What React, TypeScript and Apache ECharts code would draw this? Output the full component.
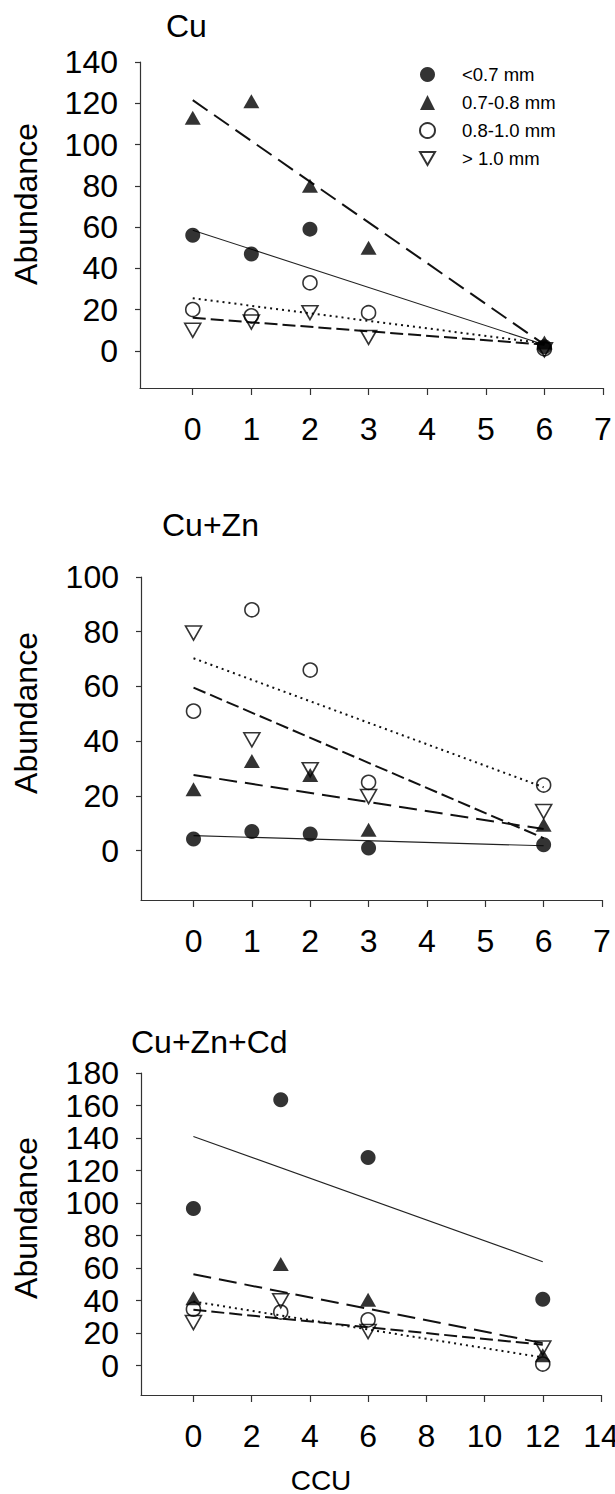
import React, { useEffect, useRef } from "react";
import * as echarts from "echarts";

// ---------- data ----------
const sizeClasses = ["<0.7 mm", "0.7-0.8 mm", "0.8-1.0 mm", "> 1.0 mm"];

const panelTitles = ["Cu", "Cu+Zn", "Cu+Zn+Cd"];

// CCU levels
const ccuCu = [0, 1, 2, 3, 6];
const ccuCuZn = [0, 1, 2, 3, 6];
const ccuCuZnCd = [0, 3, 6, 12];

// Panel 1: Cu
const cuLt07 = [56, 47, 59, null, 2];
const cu0708 = [113, 121, 80, 50, 4];
const cu0810 = [20, 17, 33, 18.5, 1];
const cuGt10 = [10, 14, 18.5, 6.5, 0.5];
const cuFitLt07 = [58.5, 3];
const cuFit0708 = [121.5, 3];
const cuFit0810 = [25.5, 3.6];
const cuFitGt10 = [16, 3];

// Panel 2: Cu+Zn
const cuZnLt07 = [4.3, 7, 6.1, 1, 2.2];
const cuZn0708 = [22.5, 32.8, 27.7, 7.7, 9.5];
const cuZn0810 = [51, 88, 66, 25, 24];
const cuZnGt10 = [79.5, 40.5, 29.6, 19.8, 14.3];
const cuZnFitLt07 = [5.5, 1.8];
const cuZnFit0708 = [27.7, 7.9];
const cuZnFit0810 = [70.3, 23.2];
const cuZnFitGt10 = [59.6, 4.6];

// Panel 3: Cu+Zn+Cd
const cdLt07 = [96.7, 163.6, 128, 40.9];
const cd0708 = [41.5, 62.6, 40.5, 6.5];
const cd0810 = [34.8, 33, 28.2, 1];
const cdGt10 = [26.6, 39.9, 21, 10.9];
const cdFitLt07 = [141, 64];
const cdFit0708 = [56.2, 13.9];
const cdFit0810 = [39.5, 5.1];
const cdFitGt10 = [34.4, 12.9];

// tick labels
const xTicks1 = [0, 1, 2, 3, 4, 5, 6, 7];
const xTicks3 = [0, 2, 4, 6, 8, 10, 12, 14];
const yTicks1 = [0, 20, 40, 60, 80, 100, 120, 140];
const yTicks2 = [0, 20, 40, 60, 80, 100];
const yTicks3 = [0, 20, 40, 60, 80, 100, 120, 140, 160, 180];

const FONT = '"Liberation Sans", Arial, sans-serif';

const symbolStyles = [
  { symbol: "circle", symbolSize: 15, itemStyle: { color: "#000" } },
  { symbol: "triangle", symbolSize: [16, 14], itemStyle: { color: "#000" } },
  {
    symbol: "circle",
    symbolSize: 14,
    itemStyle: { color: "rgba(0,0,0,0)", borderColor: "#000", borderWidth: 1.6 },
  },
  {
    symbol: "path://M0,0L20,0L10,17.3Z",
    symbolSize: [16, 14],
    itemStyle: { color: "rgba(0,0,0,0)", borderColor: "#000", borderWidth: 1.6 },
  },
];

const lineStyles = [
  { type: "solid", width: 1.1, color: "#222" },
  { type: [18, 8], width: 2, color: "#111" },
  { type: [2, 4], width: 2, color: "#111" },
  { type: [13, 5], width: 2, color: "#111" },
];

function pairs(xs: number[], ys: (number | null)[]) {
  const out: number[][] = [];
  xs.forEach((x, i) => {
    const y = ys[i];
    if (y !== null && y !== undefined) out.push([x, y]);
  });
  return out;
}

export default function App() {
  const ref = useRef<HTMLDivElement>(null);

  useEffect(() => {
    if (!ref.current) return;
    const chart = echarts.init(ref.current, null, { renderer: "svg" });

    const grids = [
      { left: 140, top: 62, width: 463, height: 326 },
      { left: 141, top: 577, width: 461, height: 323 },
      { left: 141, top: 1073, width: 460, height: 322 },
    ].map((g) => ({ ...g, outerBoundsMode: "none" }));

    const mkX = (gi: number, min: number, max: number, ticks: number[]) => ({
      gridIndex: gi,
      type: "value",
      min,
      max,
      axisLine: { show: true, onZero: false, lineStyle: { color: "#333", width: 1.2 } },
      axisTick: { show: true, customValues: ticks, length: 7, lineStyle: { color: "#333", width: 1.2 } },
      axisLabel: { customValues: ticks, fontSize: 32, color: "#000", margin: 25, fontFamily: FONT },
      splitLine: { show: false },
    });
    const mkY = (gi: number, min: number, max: number, ticks: number[]) => ({
      gridIndex: gi,
      type: "value",
      min,
      max,
      axisLine: { show: true, onZero: false, lineStyle: { color: "#333", width: 1.2 } },
      axisTick: { show: true, customValues: ticks, length: 5, lineStyle: { color: "#333", width: 1.2 } },
      axisLabel: { customValues: ticks, fontSize: 32, color: "#000", margin: 22, fontFamily: FONT },
      splitLine: { show: false },
    });

    const panels = [
      {
        xs: ccuCu,
        vals: [cuLt07, cu0708, cu0810, cuGt10],
        fits: [cuFitLt07, cuFit0708, cuFit0810, cuFitGt10],
      },
      {
        xs: ccuCuZn,
        vals: [cuZnLt07, cuZn0708, cuZn0810, cuZnGt10],
        fits: [cuZnFitLt07, cuZnFit0708, cuZnFit0810, cuZnFitGt10],
      },
      {
        xs: ccuCuZnCd,
        vals: [cdLt07, cd0708, cd0810, cdGt10],
        fits: [cdFitLt07, cdFit0708, cdFit0810, cdFitGt10],
      },
    ];

    const series: any[] = [];
    panels.forEach((p, pi) => {
      const xEnd = p.xs[p.xs.length - 1];
      p.fits.forEach((f, si) => {
        series.push({
          type: "line",
          name: sizeClasses[si] + " fit " + pi,
          xAxisIndex: pi,
          yAxisIndex: pi,
          data: [
            [p.xs[0], f[0]],
            [xEnd, f[1]],
          ],
          symbol: "none",
          lineStyle: lineStyles[si],
          silent: true,
          z: 2,
        });
      });
      p.vals.forEach((v, si) => {
        series.push({
          type: "scatter",
          name: sizeClasses[si],
          xAxisIndex: pi,
          yAxisIndex: pi,
          data: pairs(p.xs, v),
          ...symbolStyles[si],
          silent: true,
          z: 3,
        });
      });
    });

    const textStyle = (fs: number) => ({ fill: "#000", font: `${fs}px ${FONT}` });

    const graphic: any[] = [
      { type: "text", x: 166, y: 26, style: { text: panelTitles[0], ...textStyle(32), align: "left", verticalAlign: "middle" } },
      { type: "text", x: 162, y: 525, style: { text: panelTitles[1], ...textStyle(32), align: "left", verticalAlign: "middle" } },
      { type: "text", x: 131, y: 1042, style: { text: panelTitles[2], ...textStyle(32), align: "left", verticalAlign: "middle" } },
      { type: "text", x: 26, y: 204, rotation: Math.PI / 2, style: { text: "Abundance", ...textStyle(32), align: "center", verticalAlign: "middle" } },
      { type: "text", x: 26, y: 713, rotation: Math.PI / 2, style: { text: "Abundance", ...textStyle(32), align: "center", verticalAlign: "middle" } },
      { type: "text", x: 26, y: 1218, rotation: Math.PI / 2, style: { text: "Abundance", ...textStyle(32), align: "center", verticalAlign: "middle" } },
      { type: "text", x: 321, y: 1480, style: { text: "CCU", ...textStyle(28), align: "center", verticalAlign: "middle" } },
    ];

    chart.setOption({
      animation: false,
      backgroundColor: "#fff",
      grid: grids,
      xAxis: [mkX(0, -0.9, 7, xTicks1), mkX(1, -0.9, 7, xTicks1), mkX(2, -1.8, 14, xTicks3)],
      yAxis: [mkY(0, -18, 140, yTicks1), mkY(1, -18, 100, yTicks2), mkY(2, -18, 180, yTicks3)],
      legend: {
        data: sizeClasses,
        orient: "vertical",
        left: 414,
        top: 60,
        itemWidth: 15,
        itemHeight: 15,
        itemGap: 9,
        selectedMode: false,
        textStyle: { fontSize: 18.5, color: "#000", fontFamily: FONT, padding: [0, 0, 0, 22], lineHeight: 15 },
      },
      series,
      graphic,
    });

    return () => chart.dispose();
  }, []);

  return (
    <div
      ref={ref}
      style={{ position: "absolute", left: 0, top: 0, width: 615, height: 1494, background: "#fff" }}
    />
  );
}
